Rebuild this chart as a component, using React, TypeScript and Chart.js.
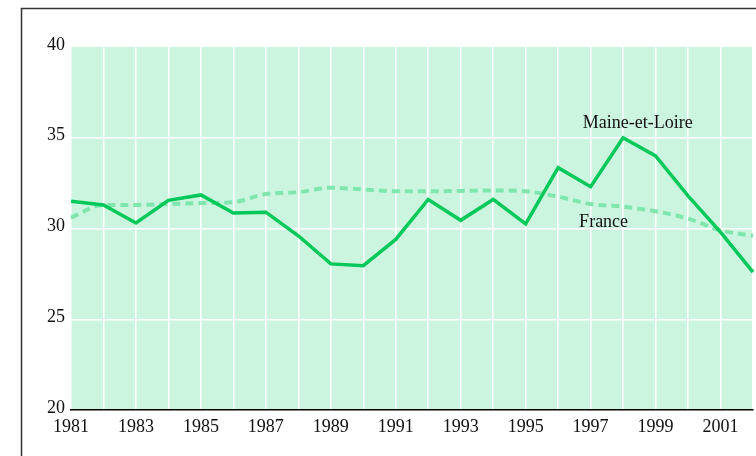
import React, { useEffect, useRef } from "react";
import { Chart, registerables } from "chart.js";

Chart.register(...registerables);

const years = ["1981","1982","1983","1984","1985","1986","1987","1988","1989","1990","1991","1992","1993","1994","1995","1996","1997","1998","1999","2000","2001","2002"];
const maineEtLoire = [31.5,31.3,30.3,31.55,31.85,30.85,30.9,29.6,28.05,27.95,29.4,31.6,30.45,31.6,30.25,33.35,32.3,35.0,34.0,31.8,29.8,27.6];
const france = [30.6,31.3,31.3,31.35,31.4,31.45,31.9,32.0,32.25,32.15,32.05,32.05,32.07,32.1,32.05,31.75,31.35,31.2,30.95,30.55,29.9,29.6];
const yTicks = [20, 25, 30, 35, 40];
const seriesLabels = ["Maine-et-Loire", "France"];
const labelIndex = [17.45, 16.4];
const labelValue = [35.8, 30.35];

const FONT = "'Liberation Serif', 'Times New Roman', serif";

export default function App() {
  const ref = useRef<HTMLCanvasElement | null>(null);
  useEffect(() => {
    if (!ref.current) return;
    const bgPlugin = {
      id: "bgFrame",
      beforeDraw(chart: any) {
        const { ctx, chartArea } = chart;
        ctx.save();
        ctx.fillStyle = "#ffffff";
        ctx.fillRect(0, 0, chart.width, chart.height);
        ctx.fillStyle = "#ccf5df";
        ctx.fillRect(chartArea.left, chartArea.top, chartArea.right - chartArea.left, chartArea.bottom - chartArea.top);
        ctx.strokeStyle = "#333333";
        ctx.lineWidth = 1.5;
        ctx.strokeRect(21.5, 8.5, 900, 600);
        ctx.restore();
      },
      afterDatasetsDraw(chart: any) {
        const { ctx, scales } = chart;
        ctx.save();
        ctx.fillStyle = "#111111";
        ctx.font = "18px " + FONT;
        ctx.textAlign = "center";
        ctx.textBaseline = "middle";
        seriesLabels.forEach((t, i) => {
          ctx.fillText(t, scales.x.getPixelForValue(labelIndex[i]), scales.y.getPixelForValue(labelValue[i]));
        });
        ctx.restore();
      },
    };
    const chart = new Chart(ref.current, {
      type: "line",
      data: {
        labels: years,
        datasets: [
          {
            label: seriesLabels[0],
            data: maineEtLoire,
            borderColor: "#00c85a",
            borderWidth: 3.5,
            pointRadius: 0,
            tension: 0,
            fill: false,
          },
          {
            label: seriesLabels[1],
            data: france,
            borderColor: "#80e6b0",
            borderWidth: 4,
            borderDash: [8, 5],
            pointRadius: 0,
            tension: 0.4,
            cubicInterpolationMode: "monotone",
            fill: false,
          },
        ],
      },
      options: {
        animation: false,
        responsive: false,
        layout: { padding: { left: 0, right: 3, top: 47, bottom: 0 } },
        plugins: { legend: { display: false }, tooltip: { enabled: false } },
        scales: {
          x: {
            type: "category",
            offset: false,
            grid: { color: "#ffffff", lineWidth: 1.5, drawTicks: false },
            border: { display: true, color: "#000000", width: 1.5 },
            afterFit(scale: any) { scale.height = 46; scale.paddingRight = 0; scale.paddingLeft = 0; },
            ticks: {
              autoSkip: false,
              maxRotation: 0,
              padding: 6,
              color: "#111111",
              font: { family: FONT, size: 18 },
              callback: (_v: any, i: number) => (i % 2 === 0 ? years[i] : ""),
            },
          },
          y: {
            min: 20,
            max: 40,
            afterBuildTicks(scale: any) { scale.ticks = yTicks.map((v) => ({ value: v })); },
            afterFit(scale: any) { scale.width = 71; scale.paddingTop = 0; scale.paddingBottom = 0; },
            grid: { color: (c: any) => (c.tick && (c.tick.value === 40 || c.tick.value === 20) ? "rgba(0,0,0,0)" : "#ffffff"), lineWidth: 1.5, drawTicks: false },
            border: { display: false },
            ticks: {
              padding: 6,
              labelOffset: -2,
              color: "#111111",
              font: { family: FONT, size: 18 },
            },
          },
        },
      },
      plugins: [bgPlugin],
    } as any);
    return () => chart.destroy();
  }, []);
  return (
    <div style={{ position: "absolute", left: 0, top: 0, width: 756, height: 456 }}>
      <canvas ref={ref} width={756} height={456} style={{ display: "block" }} />
    </div>
  );
}
